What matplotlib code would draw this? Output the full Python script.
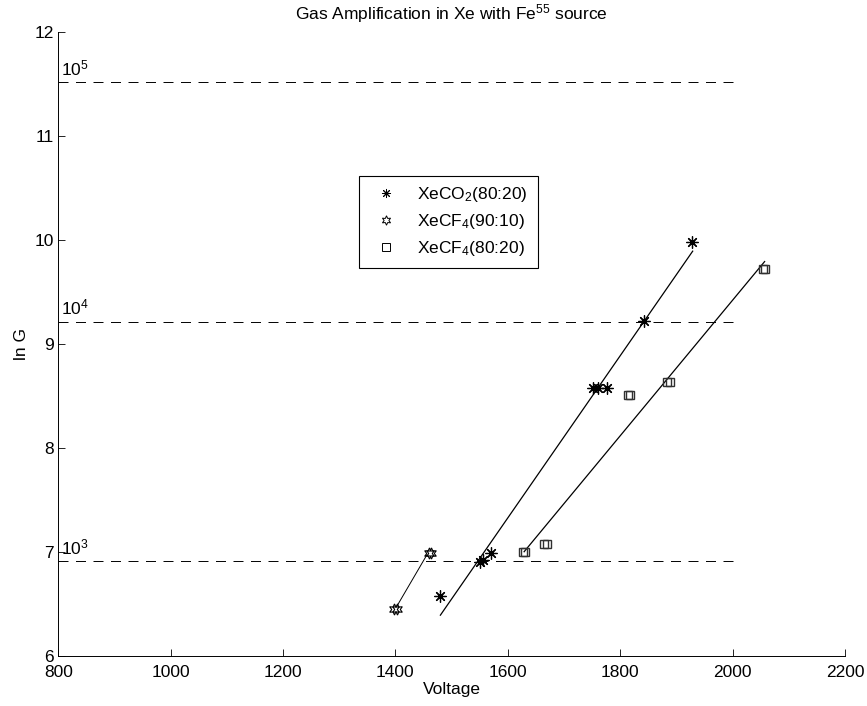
import numpy as np
import matplotlib
matplotlib.use("Agg")
import matplotlib.pyplot as plt
from matplotlib.lines import Line2D

plt.rcParams['font.family'] = ['Liberation Sans', 'DejaVu Sans']
plt.rcParams['mathtext.fontset'] = 'custom'
plt.rcParams['mathtext.rm'] = 'Liberation Sans'
plt.rcParams['mathtext.it'] = 'Liberation Sans'
plt.rcParams['font.size'] = 12.5
plt.rcParams['lines.scale_dashes'] = False

# XeCO2 (80:20) - asterisks
co2_v = [1480, 1550, 1555, 1570, 1752, 1760, 1776, 1842, 1928]
co2_lnG = [6.57, 6.90, 6.92, 6.99, 8.57, 8.57, 8.57, 9.22, 9.98]
co2_fit_v = [1480, 1929]
co2_fit_lnG = [6.39, 9.89]

# XeCF4 (90:10) - hexagrams
cf4a_v = [1398, 1459]
cf4a_v2 = [1402, 1463]
cf4a_lnG = [6.45, 6.99]
cf4a_fit_v = [1403, 1456]
cf4a_fit_lnG = [6.48, 6.97]

# XeCF4 (80:20) - squares
cf4b_v = [1627, 1665, 1814, 1884, 2054]
cf4b_v2 = [1631, 1669, 1818, 1888, 2058]
cf4b_lnG = [7.00, 7.07, 8.51, 8.63, 9.72]
cf4b_fit_v = [1629, 2057]
cf4b_fit_lnG = [7.00, 9.79]

# reference gains
ref_gain = [1e3, 1e4, 1e5]
ref_labels = [r'$\mathregular{10^3}$', r'$\mathregular{10^4}$', r'$\mathregular{10^5}$']

fig = plt.figure(figsize=(8.67, 7.06), dpi=100)
ax = fig.add_axes([0.0672, 0.0712, 0.9074, 0.8839])

asterisk = (8, 2, 0)
hexagram = (6, 1, 0)

for g, lab in zip(ref_gain, ref_labels):
    ax.plot([800, 2000], [np.log(g), np.log(g)], color='black', lw=0.7,
            dashes=(7.2, 5.4))
    ax.text(805, np.log(g) + 0.04, lab, ha='left', va='bottom', fontsize=12.5)

ax.plot(co2_fit_v, co2_fit_lnG, color='black', lw=0.9)
ax.plot(cf4a_fit_v, cf4a_fit_lnG, color='black', lw=0.7)
ax.plot(cf4b_fit_v, cf4b_fit_lnG, color='black', lw=0.9)

ax.plot(co2_v, co2_lnG, ls='none', marker=asterisk, ms=8.6, mew=0.9,
        color='black')
for xs in (cf4a_v, cf4a_v2):
    ax.plot(xs, cf4a_lnG, ls='none', marker=hexagram, ms=8.0, mew=0.8,
            mfc='none', mec='black')
for xs in (cf4b_v, cf4b_v2):
    ax.plot(xs, cf4b_lnG, ls='none', marker='s', ms=6.2, mew=1.0,
            mfc='none', mec='#303030')

handles = [
    Line2D([], [], ls='none', marker=asterisk, ms=6.5, mew=0.7, color='black',
           label=r'XeCO$\mathregular{_2}$(80:20)'),
    Line2D([], [], ls='none', marker=hexagram, ms=6.8, mew=0.7, mfc='none',
           mec='black', label=r'XeCF$\mathregular{_4}$(90:10)'),
    Line2D([], [], ls='none', marker='s', ms=5.5, mew=0.7, mfc='none',
           mec='black', label=r'XeCF$\mathregular{_4}$(80:20)'),
]

ax.set_xlim(800, 2200)
ax.set_ylim(6, 12)
ax.set_xticks(np.arange(800, 2201, 200))
ax.set_yticks(np.arange(6, 13, 1))
ax.tick_params(direction='in', length=5, width=0.6, labelsize=12.5)
ax.tick_params(axis='x', pad=7)
ax.tick_params(axis='y', pad=3)
for s in ['top', 'right']:
    ax.spines[s].set_visible(False)
for s in ['left', 'bottom']:
    ax.spines[s].set_linewidth(0.7)

ax.set_xlabel('Voltage', fontsize=12.5, labelpad=1)
ax.set_ylabel('ln G', fontsize=12.5, labelpad=4)
ax.set_title(r'Gas Amplification in Xe with Fe$\mathregular{^{55}}$ source',
             fontsize=12.5, pad=9)

leg = ax.legend(handles=handles, loc='upper left',
                bbox_to_anchor=(0.3826, 0.769),
                fancybox=False, edgecolor='black', framealpha=1,
                borderpad=0.55, handlelength=2.0, handletextpad=0.8,
                labelspacing=0.45, fontsize=12.5, borderaxespad=0)
leg.get_frame().set_linewidth(0.8)

fig.savefig('out.png', dpi=100)
